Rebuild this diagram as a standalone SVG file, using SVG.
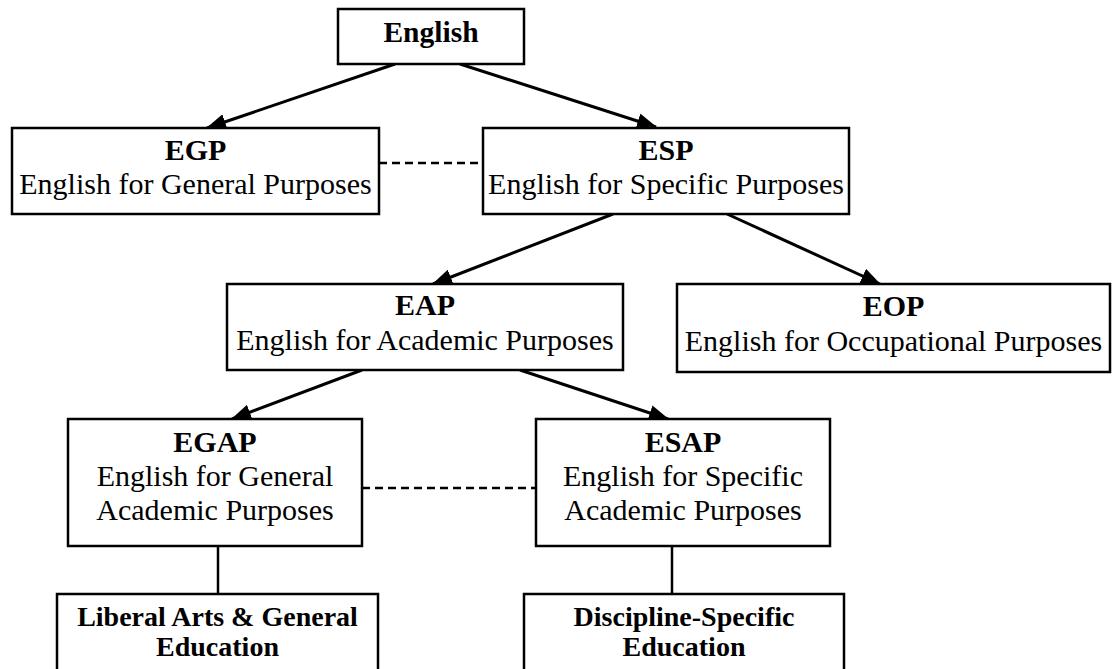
<svg xmlns="http://www.w3.org/2000/svg" width="1113" height="669" viewBox="0 0 1113 669">
<defs>
<style>
.box{fill:#fff;stroke:#000;stroke-width:2.5}
.t{font-family:"Liberation Serif","Times New Roman",serif;font-size:30px;fill:#000;text-anchor:middle}
.b{font-weight:bold}
.s{font-size:28px}
.arr{stroke:#000;stroke-width:3;fill:none;marker-end:url(#ah)}
.ln{stroke:#000;stroke-width:2.5;fill:none}
.dash{stroke:#000;stroke-width:2.5;fill:none;stroke-dasharray:8 5}
</style>
<marker id="ah" markerUnits="userSpaceOnUse" markerWidth="20" markerHeight="16" refX="19" refY="8" orient="auto">
<path d="M0,0 L20,8 L0,16 z" fill="#000"/>
</marker>
</defs>
<rect width="1113" height="669" fill="#fff"/>
<g id="connectors">
<line class="arr" x1="395" y1="64" x2="207" y2="128"/>
<line class="arr" x1="460" y1="64" x2="656" y2="127"/>
<line class="dash" x1="379" y1="163" x2="483" y2="163"/>
<line class="arr" x1="613" y1="214" x2="433" y2="284"/>
<line class="arr" x1="727" y1="214" x2="880" y2="284"/>
<line class="arr" x1="362" y1="370" x2="232" y2="419"/>
<line class="arr" x1="520" y1="370" x2="668" y2="419"/>
<line class="dash" x1="362" y1="488" x2="536" y2="488"/>
<line class="ln" x1="218" y1="546" x2="218" y2="594"/>
<line class="ln" x1="672" y1="546" x2="672" y2="594"/>
</g>
<g id="english">
<rect class="box" x="338" y="9" width="186" height="55"/>
<text class="t b" x="431" y="42" style="font-size:29.5px">English</text>
</g>
<g id="egp">
<rect class="box" x="12" y="128" width="367" height="86"/>
<text class="t b" x="195.5" y="160">EGP</text>
<text class="t" x="195.5" y="194">English for General Purposes</text>
</g>
<g id="esp">
<rect class="box" x="483" y="128" width="366" height="86"/>
<text class="t b" x="666" y="160">ESP</text>
<text class="t" x="666" y="194">English for Specific Purposes</text>
</g>
<g id="eap">
<rect class="box" x="227" y="284" width="396" height="86"/>
<text class="t b" x="425" y="315">EAP</text>
<text class="t" x="425" y="350">English for Academic Purposes</text>
</g>
<g id="eop">
<rect class="box" x="677" y="284" width="433" height="88"/>
<text class="t b" x="893.5" y="316">EOP</text>
<text class="t" x="893.5" y="351">English for Occupational Purposes</text>
</g>
<g id="egap">
<rect class="box" x="68" y="419" width="294" height="127"/>
<text class="t b" x="215" y="452">EGAP</text>
<text class="t" x="215" y="486">English for General</text>
<text class="t" x="215" y="520">Academic Purposes</text>
</g>
<g id="esap">
<rect class="box" x="536" y="419" width="294" height="127"/>
<text class="t b" x="683" y="452">ESAP</text>
<text class="t" x="683" y="486">English for Specific</text>
<text class="t" x="683" y="520">Academic Purposes</text>
</g>
<g id="liberal">
<rect class="box" x="57" y="594" width="321" height="120"/>
<text class="t b s" x="217.5" y="626">Liberal Arts &amp; General</text>
<text class="t b s" x="217.5" y="656">Education</text>
</g>
<g id="discipline">
<rect class="box" x="524" y="594" width="320" height="120"/>
<text class="t b s" x="684" y="626">Discipline-Specific</text>
<text class="t b s" x="684" y="656">Education</text>
</g>
</svg>
